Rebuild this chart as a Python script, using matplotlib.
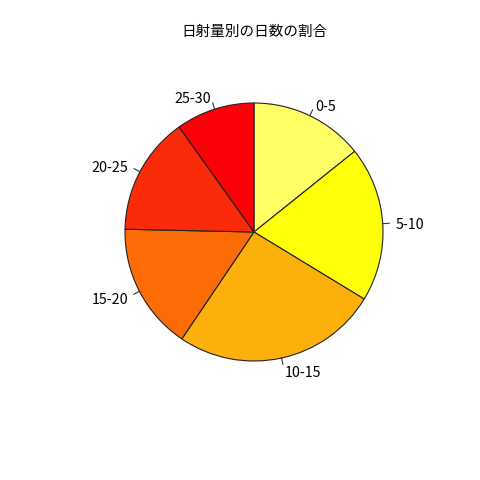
import numpy as np
import matplotlib
matplotlib.use("Agg")
import matplotlib.pyplot as plt
from matplotlib.transforms import offset_copy

plt.rcParams['font.family'] = ['Noto Sans CJK JP', 'DejaVu Sans']

labels = ["0-5", "5-10", "10-15", "15-20", "20-25", "25-30"]
days = [52, 71, 94, 58, 54, 36]
colors = ["#ffff66", "#ffff0a", "#fdb00c", "#fb6c07", "#fb2a0a", "#fe0008"]
title = "日射量別の日数の割合"

W = H = 480
cx, cy, R = 254, 232, 129  # pixel layout of the pie

fig = plt.figure(figsize=(4.8, 4.8), dpi=100)
ax = fig.add_axes([0, 0, 1, 1])

wedges, _ = ax.pie(days, colors=colors, startangle=90, counterclock=False,
                   radius=1, center=(0, 0),
                   wedgeprops=dict(edgecolor='#222222', linewidth=0.8))
ax.set_aspect('auto')
ax.set_xlim(-cx / R, (W - cx) / R)
ax.set_ylim(-(H - cy) / R, cy / R)
ax.axis('off')

tr = offset_copy(ax.transData, fig=fig, x=0, y=-2.5, units='dots')
for w, lab in zip(wedges, labels):
    mid = np.deg2rad((w.theta1 + w.theta2) / 2)
    c, s = np.cos(mid), np.sin(mid)
    ax.plot([c, 1.05 * c], [s, 1.05 * s], color='#333333', lw=0.8)
    ax.text(1.1 * c, 1.1 * s, lab, ha='left' if c > 0 else 'right',
            va='center', fontsize=10.3, transform=tr)

fig.text(254 / W, 1 - 32 / H, title, ha='center', va='center', fontsize=10.5)

fig.savefig("out.png", dpi=100, facecolor='white')
